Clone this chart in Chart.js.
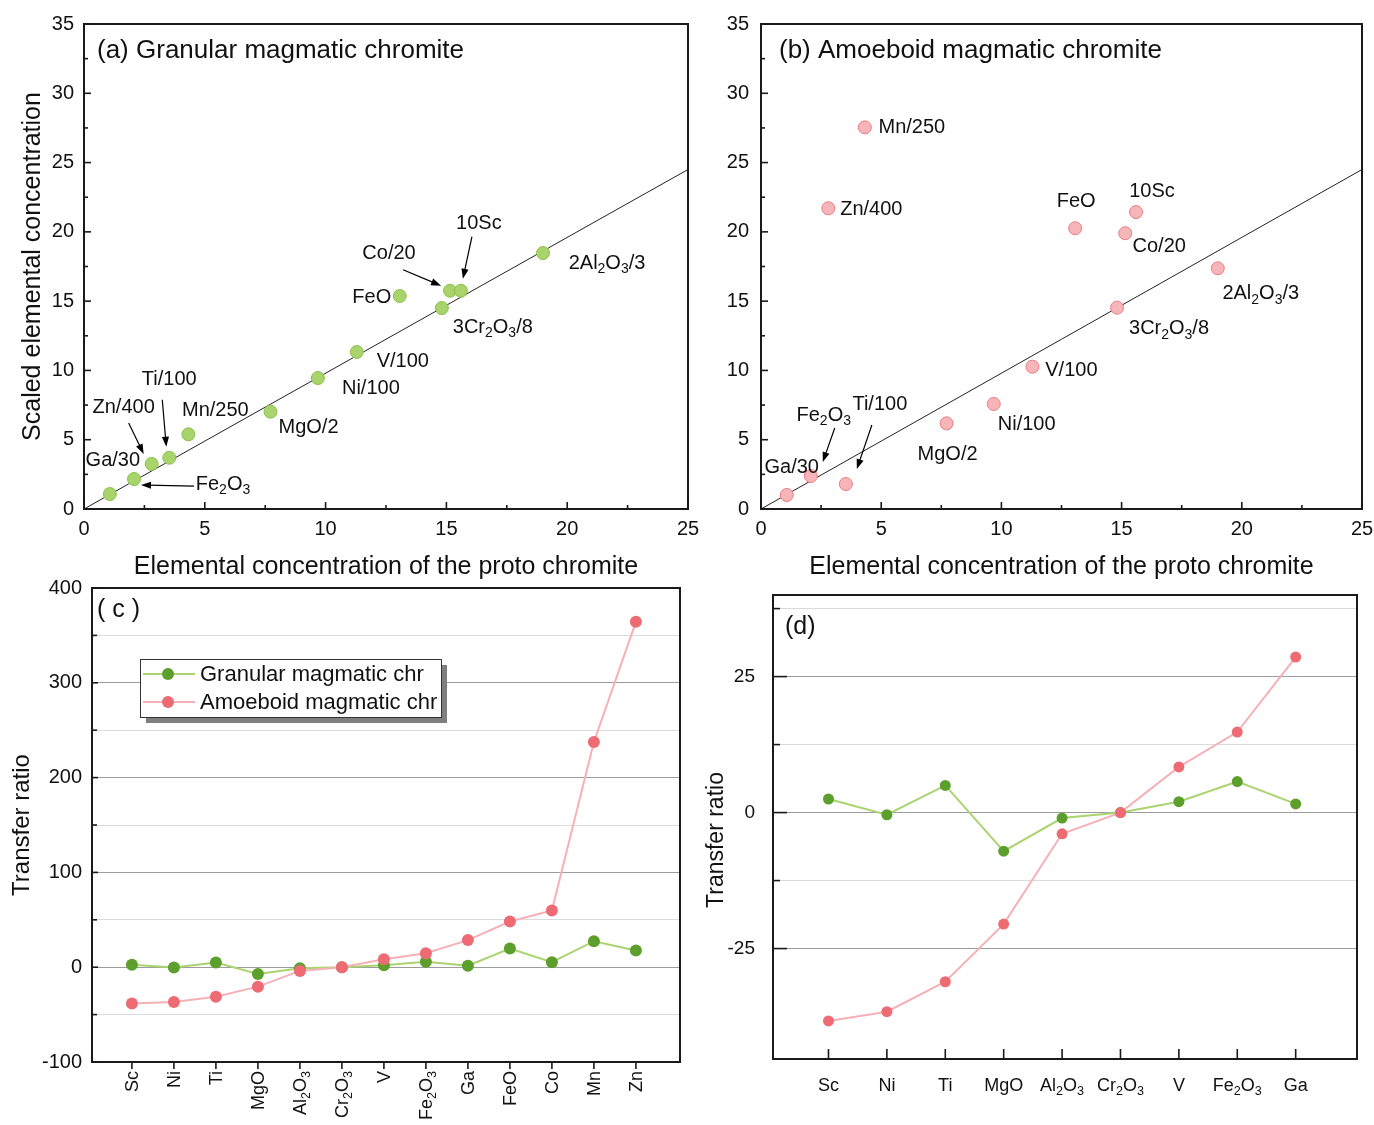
<!DOCTYPE html>
<html><head><meta charset="utf-8">
<script src="https://cdn.jsdelivr.net/npm/chart.js@4.4.1/dist/chart.umd.min.js"></script>
<style>
html,body{margin:0;padding:0;background:#fff;}
body{width:1374px;height:1125px;position:relative;overflow:hidden;}
canvas{position:absolute;}
</style></head>
<body>
<canvas id="ca" width="700" height="585" style="left:0;top:0"></canvas>
<canvas id="cb" width="674" height="585" style="left:700px;top:0"></canvas>
<canvas id="cc" width="700" height="565" style="left:0;top:560px"></canvas>
<canvas id="cd" width="674" height="565" style="left:700px;top:560px"></canvas>
<script>
// ---------------- DATA ----------------
const scatterLabels = ['Ga/30','Fe_2O_3','Zn/400','Ti/100','Mn/250','MgO/2','Ni/100','V/100','FeO','3Cr_2O_3/8','Co/20','10Sc','2Al_2O_3/3'];
const protoConc      = [1.07, 2.07, 2.80, 3.53, 4.32, 7.72, 9.68, 11.29, 13.07, 14.81, 15.15, 15.60, 19.00];
const granularScaled = [1.08, 2.16, 3.25, 3.70, 5.39, 7.02, 9.45, 11.33, 15.37, 14.50, 15.75, 15.75, 18.47];
const amoeboidScaled = [1.01, 2.38, 21.70, 1.80, 27.54, 6.18, 7.58, 10.27, 20.26, 14.53, 19.90, 21.43, 17.37];
const refLineX = [0, 25];
const refLineY = [0, 24.5];

const trCategories = ['Sc','Ni','Ti','MgO','Al_2O_3','Cr_2O_3','V','Fe_2O_3','Ga','FeO','Co','Mn','Zn'];
const granularTR   = [2.5, -0.4, 5.0, -7.1, -1.0, 0, 2.0, 5.7, 1.6, 19.7, 5.3, 27.4, 17.6];
const amoeboidTR   = [-38.3, -36.6, -31.1, -20.5, -3.9, 0, 8.4, 14.8, 28.6, 48.2, 59.8, 237.6, 364.3];
const panelDCount  = 9;
const seriesNames  = ['Granular magmatic chr', 'Amoeboid magmatic chr'];

// ---------------- STYLE ----------------
const FONT = '"Liberation Sans", Arial, Helvetica, sans-serif';
Chart.defaults.font.family = FONT;
Chart.defaults.color = '#111';
const GREEN_PT = '#a8d46b', GREEN_PT_EDGE = '#8cbf4f';
const PINK_PT = '#f6b6b9', PINK_PT_EDGE = '#ec7c82';
const GREEN_LINE = '#a9d470', GREEN_MK = '#5c9f2d';
const PINK_LINE = '#f5b1b6', PINK_MK = '#ee6b73';

const annotA = [
  {dx:3, dy:-34},
  {dx:89, dy:5, arrow:[60,7,7,6]},
  {dx:-28, dy:-56, arrow:[-23,-41,-8,-10]},
  {dx:0, dy:-78, arrow:[-7,-58,-3,-11]},
  {dx:27, dy:-24},
  {dx:38, dy:16},
  {dx:53, dy:10},
  {dx:46, dy:9},
  {dx:-28, dy:1},
  {dx:51, dy:19},
  {dx:-61, dy:-37, arrow:[-47,-21,-9,-5]},
  {dx:18, dy:-67, arrow:[11,-54,2,-12]},
  {dx:64, dy:10}
];
const annotB = [
  {dx:5, dy:-28},
  {dx:13, dy:-61, arrow:[24,-48,12,-14]},
  {dx:43, dy:1},
  {dx:34, dy:-80, arrow:[26,-59,11,-15]},
  {dx:47, dy:0},
  {dx:1, dy:31},
  {dx:33, dy:21},
  {dx:39, dy:4},
  {dx:1, dy:-27},
  {dx:52, dy:21},
  {dx:34, dy:13},
  {dx:16, dy:-21},
  {dx:43, dy:25}
];

// ---------------- HELPERS ----------------
function richParts(str){
  const parts=[]; let buf='';
  for(let i=0;i<str.length;i++){
    if(str[i]==='_'){ if(buf){parts.push({t:buf,sub:false});buf='';} parts.push({t:str[i+1],sub:true}); i++; }
    else buf+=str[i];
  }
  if(buf) parts.push({t:buf,sub:false});
  return parts;
}
function richWidth(ctx,str,size){
  let w=0; for(const p of richParts(str)){ ctx.font=(p.sub?size*0.7:size)+'px '+FONT; w+=ctx.measureText(p.t).width; } return w;
}
function drawRich(ctx,str,x,y,size,align){
  const w=richWidth(ctx,str,size);
  let cx = align==='center'? x-w/2 : (align==='right'? x-w : x);
  ctx.textBaseline='middle'; ctx.textAlign='left'; ctx.fillStyle='#111';
  for(const p of richParts(str)){
    const s=p.sub?size*0.7:size; ctx.font=s+'px '+FONT;
    ctx.fillText(p.t,cx,p.sub? y+size*0.32 : y);
    cx+=ctx.measureText(p.t).width;
  }
}
function arrow(ctx,x1,y1,x2,y2){
  ctx.strokeStyle='#000'; ctx.fillStyle='#000'; ctx.lineWidth=1.2;
  const a=Math.atan2(y2-y1,x2-x1), L=10, W=3.6;
  ctx.beginPath(); ctx.moveTo(x1,y1); ctx.lineTo(x2-L*0.6*Math.cos(a),y2-L*0.6*Math.sin(a)); ctx.stroke();
  ctx.beginPath(); ctx.moveTo(x2,y2);
  ctx.lineTo(x2-L*Math.cos(a)+W*Math.sin(a), y2-L*Math.sin(a)-W*Math.cos(a));
  ctx.lineTo(x2-L*Math.cos(a)-W*Math.sin(a), y2-L*Math.sin(a)+W*Math.cos(a));
  ctx.closePath(); ctx.fill();
}

const decor = {
  id:'decor',
  afterDraw(chart,args,o){
    const ctx=chart.ctx, ca=chart.chartArea, xs=chart.scales.x, ys=chart.scales.y;
    ctx.save();
    if(o.annot){
      scatterLabels.forEach((lab,i)=>{
        const px=xs.getPixelForValue(protoConc[i]), py=ys.getPixelForValue(o.annot.values[i]);
        const a=o.annot.style[i];
        drawRich(ctx,lab,px+a.dx,py+a.dy,20,'center');
        if(a.arrow) arrow(ctx,px+a.arrow[0],py+a.arrow[1],px+a.arrow[2],py+a.arrow[3]);
      });
    }
    if(o.legend){
      const L=o.legend, x0=ca.left+L.dx, y0=ca.top+L.dy;
      ctx.fillStyle='#7f7f7f'; ctx.fillRect(x0+L.shadow,y0+L.shadow,L.w,L.h);
      ctx.fillStyle='#fff'; ctx.fillRect(x0,y0,L.w,L.h);
      ctx.strokeStyle='#333'; ctx.lineWidth=1; ctx.strokeRect(x0+0.5,y0+0.5,L.w,L.h);
      chart.data.datasets.forEach((ds,i)=>{
        const yy=y0+15+i*28;
        ctx.strokeStyle=ds.borderColor; ctx.lineWidth=2;
        ctx.beginPath(); ctx.moveTo(x0+3,yy); ctx.lineTo(x0+55,yy); ctx.stroke();
        ctx.fillStyle=ds.pointBackgroundColor; ctx.beginPath(); ctx.arc(x0+28,yy,6,0,Math.PI*2); ctx.fill();
        ctx.fillStyle='#111'; ctx.font='22px '+FONT; ctx.textBaseline='middle'; ctx.textAlign='left';
        ctx.fillText(ds.label,x0+60,yy+1);
      });
    }
    if(o.xLabels){
      const X=o.xLabels;
      X.texts.forEach((t,i)=>{
        const px=xs.getPixelForValue(i);
        if(X.rotate){
          ctx.save(); ctx.translate(px+1, ca.bottom+X.pad); ctx.rotate(-Math.PI/2);
          drawRich(ctx,t,0,0,X.size,'right'); ctx.restore();
        } else {
          drawRich(ctx,t,px,ca.bottom+X.pad,X.size,'center');
        }
      });
    }
    if(o.panel){
      ctx.fillStyle='#111'; ctx.font=o.panel.size+'px '+FONT; ctx.textBaseline='middle'; ctx.textAlign='left';
      ctx.fillText(o.panel.text,ca.left+o.panel.dx,ca.top+o.panel.dy);
    }
    if(o.ytitle){
      ctx.save(); ctx.translate(o.ytitle.x,o.ytitle.y); ctx.rotate(-Math.PI/2);
      ctx.fillStyle='#111'; ctx.font=o.ytitle.size+'px '+FONT; ctx.textAlign='center'; ctx.textBaseline='middle';
      ctx.fillText(o.ytitle.text,0,0); ctx.restore();
    }
    ctx.strokeStyle='#1a1a1a'; ctx.lineWidth=2;
    ctx.strokeRect(ca.left,ca.top,ca.right-ca.left,ca.bottom-ca.top);
    ctx.lineWidth=1.6; ctx.strokeStyle='#1a1a1a';
    if(o.xt){
      xs.ticks.forEach(t=>{
        if(o.xt.hide && o.xt.hide.includes(t.value)) return;
        const px=xs.getPixelForValue(t.value), len=o.xt.major(t.value)?o.xt.len[0]:o.xt.len[1];
        const d=o.xt.dir==='in'?-1:1;
        ctx.beginPath(); ctx.moveTo(px,ca.bottom); ctx.lineTo(px,ca.bottom+d*len); ctx.stroke();
      });
    }
    if(o.yt){
      ys.ticks.forEach(t=>{
        if(o.yt.hide && o.yt.hide.includes(t.value)) return;
        const py=ys.getPixelForValue(t.value), len=o.yt.major(t.value)?o.yt.len[0]:o.yt.len[1];
        const d=o.yt.dir==='in'?1:-1;
        ctx.beginPath(); ctx.moveTo(ca.left,py); ctx.lineTo(ca.left+d*len,py); ctx.stroke();
      });
    }
    ctx.restore();
  }
};

const is5 = v => Math.abs(v/5-Math.round(v/5))<1e-6;
function fixH(h){ return s=>{ s.height=h; s.paddingLeft=0; s.paddingRight=0; }; }
function fixW(w){ return s=>{ s.width=w; s.paddingTop=0; s.paddingBottom=0; }; }

function scatterChart(id, vals, ptFill, ptEdge, annotStyle, panelText, yWidth, yTitle, panelDx){
  const yScale = {
    type:'linear', min:0, max:35,
    ticks:{stepSize:2.5, autoSkip:false, padding:yTitle?10:12, font:{size:20}, color:'#111', callback:v=>is5(v)?v:''},
    grid:{display:false, drawTicks:false}, border:{display:false},
    afterFit:fixW(yWidth)
  };
  if(yTitle) yScale.title={display:true, text:yTitle, font:{size:25}, color:'#111', padding:{top:18,bottom:0}};
  return new Chart(document.getElementById(id),{
    type:'scatter',
    data:{datasets:[
      {data:protoConc.map((x,i)=>({x,y:vals[i]})), pointRadius:6.5, pointBackgroundColor:ptFill, pointBorderColor:ptEdge, pointBorderWidth:1, order:0},
      {data:refLineX.map((x,i)=>({x,y:refLineY[i]})), showLine:true, borderColor:'#222', borderWidth:1, pointRadius:0, order:1}
    ]},
    options:{
      responsive:false, animation:false, devicePixelRatio:1,
      layout:{padding:{top:24,right:12,left:0,bottom:0}},
      plugins:{legend:{display:false}, tooltip:{enabled:false},
        decor:{annot:{values:vals, style:annotStyle}, panel:{text:panelText, dx:panelDx, dy:27, size:26},
          xt:{len:[7,4], dir:'in', major:is5}, yt:{len:[7,4], dir:'in', major:is5}}},
      scales:{
        x:{type:'linear', min:0, max:25,
          ticks:{stepSize:2.5, autoSkip:false, maxRotation:0, padding:8, font:{size:20}, color:'#111', callback:v=>is5(v)?v:''},
          grid:{display:false, drawTicks:false}, border:{display:false},
          title:{display:true, text:'Elemental concentration of the proto chromite', font:{size:25}, color:'#111', padding:{top:0,bottom:3}},
          afterFit:fixH(76)},
        y:yScale
      }
    },
    plugins:[decor]
  });
}

scatterChart('ca', granularScaled, GREEN_PT, GREEN_PT_EDGE, annotA, '(a) Granular magmatic chromite', 84, 'Scaled elemental concentration', 13);
scatterChart('cb', amoeboidScaled, PINK_PT, PINK_PT_EDGE, annotB, '(b) Amoeboid magmatic chromite', 61, null, 18);

function lineDatasets(n, r){
  return [
    {label:seriesNames[0], data:granularTR.slice(0,n).map((y,i)=>({x:i,y})), borderColor:GREEN_LINE, borderWidth:2,
     pointRadius:r, pointBackgroundColor:GREEN_MK, pointBorderColor:GREEN_MK, pointBorderWidth:0, tension:0, order:1},
    {label:seriesNames[1], data:amoeboidTR.slice(0,n).map((y,i)=>({x:i,y})), borderColor:PINK_LINE, borderWidth:2,
     pointRadius:r, pointBackgroundColor:PINK_MK, pointBorderColor:PINK_MK, pointBorderWidth:0, tension:0, order:0}
  ];
}
function catX(n, height){
  return {type:'linear', min:-0.95, max:n-1+1.05,
    afterBuildTicks:s=>{s.ticks=trCategories.slice(0,n).map((c,i)=>({value:i}));},
    ticks:{display:false}, grid:{display:false, drawTicks:false}, border:{display:false},
    afterFit:fixH(height)};
}

// Panel (c)
new Chart(document.getElementById('cc'),{
  type:'line',
  data:{datasets:lineDatasets(trCategories.length, 6)},
  options:{
    responsive:false, animation:false, devicePixelRatio:1,
    layout:{padding:{top:28,right:20,left:0,bottom:0}},
    plugins:{legend:{display:false}, tooltip:{enabled:false},
      decor:{legend:{dx:48, dy:71, w:301, h:58, shadow:6},
        xLabels:{texts:trCategories, size:18, rotate:true, pad:9},
        panel:{text:'( c )', dx:5, dy:22, size:25},
        xt:{len:[7,7], dir:'out', major:()=>true},
        yt:{len:[6,5], dir:'in', major:v=>v%100===0}}},
    scales:{
      x:catX(trCategories.length, 63),
      y:{type:'linear', min:-100, max:400,
        ticks:{stepSize:50, autoSkip:false, padding:10, font:{size:20}, color:'#111', callback:v=>v%100===0?v:''},
        grid:{drawTicks:false, lineWidth:1, color:c=>(c.tick && c.tick.value%100===0)?'#9c9c9c':'#dadada'},
        border:{display:false},
        title:{display:true, text:'Transfer ratio', font:{size:24}, color:'#111', padding:{top:8,bottom:0}},
        afterFit:fixW(92)}
    }
  },
  plugins:[decor]
});

// Panel (d)
new Chart(document.getElementById('cd'),{
  type:'line',
  data:{datasets:lineDatasets(panelDCount, 5.5)},
  options:{
    responsive:false, animation:false, devicePixelRatio:1,
    layout:{padding:{top:35,right:17,left:0,bottom:0}},
    plugins:{legend:{display:false}, tooltip:{enabled:false},
      decor:{xLabels:{texts:trCategories.slice(0,panelDCount), size:18, rotate:false, pad:27},
        panel:{text:'(d)', dx:12, dy:32, size:25},
        ytitle:{text:'Transfer ratio', x:17, y:280, size:23},
        xt:{len:[10,10], dir:'in', major:()=>true},
        yt:{len:[14,7], dir:'in', major:v=>v%25===0, hide:[-37.5]}}},
    scales:{
      x:catX(panelDCount, 66),
      y:{type:'linear', min:-45.3, max:40,
        ticks:{stepSize:12.5, includeBounds:false, autoSkip:false, padding:18, font:{size:19}, color:'#111', callback:v=>v%25===0?v:''},
        grid:{drawTicks:false, lineWidth:1, color:c=>{const v=c.tick?c.tick.value:NaN; if(v===-37.5) return 'rgba(0,0,0,0)'; return v%25===0?'#9c9c9c':'#dadada';}},
        border:{display:false},
        afterFit:fixW(73)}
    }
  },
  plugins:[decor]
});
</script>
</body></html>
